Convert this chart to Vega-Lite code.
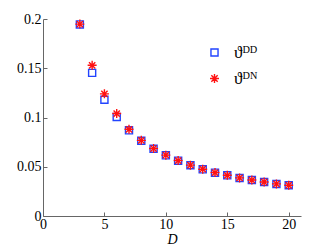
{
  "$schema": "https://vega.github.io/schema/vega-lite/v6.json",
  "width": 258,
  "height": 197,
  "autosize": {"type": "none"},
  "padding": {"left": 43, "top": 19, "right": 31, "bottom": 34},
  "background": "white",
  "config": {"view": {"stroke": null}, "font": "Liberation Serif"},
  "data": {"values": [
    {"D": 3, "s": "DD", "v": 0.1945}, {"D": 4, "s": "DD", "v": 0.1453}, {"D": 5, "s": "DD", "v": 0.118},
    {"D": 6, "s": "DD", "v": 0.1006}, {"D": 7, "s": "DD", "v": 0.087}, {"D": 8, "s": "DD", "v": 0.0764},
    {"D": 9, "s": "DD", "v": 0.0683}, {"D": 10, "s": "DD", "v": 0.0616}, {"D": 11, "s": "DD", "v": 0.0562},
    {"D": 12, "s": "DD", "v": 0.0515}, {"D": 13, "s": "DD", "v": 0.0474}, {"D": 14, "s": "DD", "v": 0.044},
    {"D": 15, "s": "DD", "v": 0.0413}, {"D": 16, "s": "DD", "v": 0.0386}, {"D": 17, "s": "DD", "v": 0.0365},
    {"D": 18, "s": "DD", "v": 0.0345}, {"D": 19, "s": "DD", "v": 0.0325}, {"D": 20, "s": "DD", "v": 0.0312},
    {"D": 3, "s": "DN", "v": 0.1948}, {"D": 4, "s": "DN", "v": 0.153}, {"D": 5, "s": "DN", "v": 0.124},
    {"D": 6, "s": "DN", "v": 0.104}, {"D": 7, "s": "DN", "v": 0.088}, {"D": 8, "s": "DN", "v": 0.0768},
    {"D": 9, "s": "DN", "v": 0.0685}, {"D": 10, "s": "DN", "v": 0.0618}, {"D": 11, "s": "DN", "v": 0.0563},
    {"D": 12, "s": "DN", "v": 0.0516}, {"D": 13, "s": "DN", "v": 0.0475}, {"D": 14, "s": "DN", "v": 0.0441},
    {"D": 15, "s": "DN", "v": 0.0413}, {"D": 16, "s": "DN", "v": 0.0387}, {"D": 17, "s": "DN", "v": 0.0365},
    {"D": 18, "s": "DN", "v": 0.0345}, {"D": 19, "s": "DN", "v": 0.0326}, {"D": 20, "s": "DN", "v": 0.0312}
  ]},
  "mark": {"type": "point", "filled": false, "strokeWidth": 1.4, "opacity": 1},
  "encoding": {
    "x": {
      "field": "D", "type": "quantitative",
      "scale": {"domain": [0, 21], "nice": false, "zero": false},
      "axis": {
        "values": [0, 5, 10, 15, 20], "grid": false, "tickSize": -4, "domainColor": "#666666", "tickColor": "#666666",
        "labelFontSize": 14, "labelColor": "black", "labelPadding": 5, "labelFlush": false,
        "title": "D", "titleFontSize": 14, "titleFontStyle": "italic", "titleFontWeight": "normal", "titleColor": "black", "titlePadding": 1
      }
    },
    "y": {
      "field": "v", "type": "quantitative",
      "scale": {"domain": [0, 0.2], "nice": false},
      "axis": {
        "values": [0, 0.05, 0.1, 0.15, 0.2], "format": "~g", "grid": false, "tickSize": -4, "domainColor": "#666666", "tickColor": "#666666",
        "labelFontSize": 14, "labelColor": "black", "labelPadding": 6, "labelFlush": false, "title": null
      }
    },
    "color": {
      "field": "s", "type": "nominal",
      "scale": {"domain": ["DD", "DN"], "range": ["#2244ff", "#ff1111"]},
      "legend": {
        "orient": "none", "legendX": 163, "legendY": 25, "title": null, "padding": 0,
        "labelExpr": "datum.label == 'DD' ? 'ϑᴰᴰ' : 'ϑᴰᴺ'", "labelFontSize": 17, "labelFont": "Liberation Serif",
        "rowPadding": 8, "labelOffset": 11, "symbolStrokeWidth": 1.4, "symbolSize": 49
      }
    },
    "shape": {
      "field": "s", "type": "nominal",
      "scale": {"domain": ["DD", "DN"], "range": ["square", "M-1,0L1,0M0,-1L0,1M-0.7,-0.7L0.7,0.7M-0.7,0.7L0.7,-0.7"]},
      "legend": null
    },
    "size": {
      "field": "s", "type": "nominal",
      "scale": {"domain": ["DD", "DN"], "range": [50, 81]},
      "legend": null
    }
  }
}
